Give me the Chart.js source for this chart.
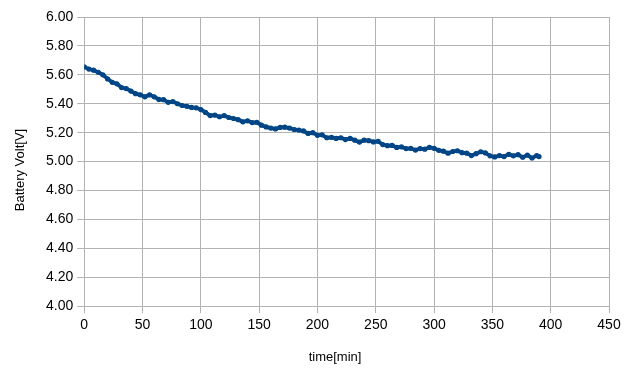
<!DOCTYPE html>
<html>
<head>
<meta charset="utf-8">
<script src="https://cdn.jsdelivr.net/npm/chart.js@4/dist/chart.umd.min.js"></script>
<style>
  body { margin: 0; background: #fff; }
  #wrap { width: 630px; height: 373px; }
</style>
</head>
<body>
<div id="wrap"><canvas id="voltChart" width="630" height="373"></canvas></div>
<script>
// time in minutes
var timeMin = [0, 4, 8, 12, 16, 20, 24, 28, 32, 36, 40, 44, 48, 52, 56, 60, 64, 68, 72, 76,
    80, 84, 88, 92, 96, 100, 104, 108, 112, 116, 120, 124, 128, 132, 136, 140, 144, 148, 152, 156,
    160, 164, 168, 172, 176, 180, 184, 188, 192, 196, 200, 204, 208, 212, 216, 220, 224, 228, 232, 236,
    240, 244, 248, 252, 256, 260, 264, 268, 272, 276, 280, 284, 288, 292, 296, 300, 304, 308, 312, 316,
    320, 324, 328, 332, 336, 340, 344, 348, 352, 356, 360, 364, 368, 372, 376, 380, 384, 388, 390];

// battery voltage [V]
var voltage = [5.655, 5.640, 5.632, 5.618, 5.600, 5.572, 5.548, 5.538, 5.512, 5.505, 5.488, 5.470, 5.462, 5.448, 5.462, 5.448, 5.430, 5.428, 5.410, 5.415,
    5.400, 5.388, 5.382, 5.375, 5.372, 5.360, 5.340, 5.318, 5.322, 5.310, 5.318, 5.305, 5.298, 5.290, 5.275, 5.282, 5.270, 5.272, 5.252, 5.240,
    5.232, 5.226, 5.236, 5.238, 5.232, 5.222, 5.218, 5.212, 5.195, 5.200, 5.182, 5.185, 5.165, 5.168, 5.160, 5.165, 5.152, 5.160, 5.148, 5.135,
    5.148, 5.145, 5.136, 5.140, 5.118, 5.110, 5.112, 5.098, 5.102, 5.090, 5.092, 5.080, 5.090, 5.086, 5.098, 5.092, 5.078, 5.072, 5.058, 5.070,
    5.075, 5.062, 5.058, 5.042, 5.055, 5.068, 5.060, 5.040, 5.032, 5.042, 5.035, 5.050, 5.040, 5.048, 5.030, 5.045, 5.025, 5.042, 5.035];

var xTitle = "time[min]";
var yTitle = "Battery Volt[V]";

var lineColor = "#004586";
var gridColor = "#b3b3b3";
var fontFam = "'Liberation Sans', Arial, sans-serif";

var points = timeMin.map(function (t, i) {
    return { x: t, y: voltage[i] };
});

// axis titles sit off-centre in the original, so draw them here
var axisTitles = {
    id: "axisTitles",
    afterDraw: function (chart) {
        var ctx = chart.ctx;
        ctx.save();
        ctx.fillStyle = "#000";
        ctx.font = "13px " + fontFam;
        ctx.textAlign = "center";
        ctx.textBaseline = "middle";
        ctx.fillText(xTitle, 335, 357);
        ctx.translate(20, 170);
        ctx.rotate(-Math.PI / 2);
        ctx.fillText(yTitle, 0, 0);
        ctx.restore();
    },
};

var voltChart = new Chart(document.getElementById("voltChart"), {
    type: "scatter",
    data: {
        datasets: [
            {
                data: points,
                showLine: true,
                borderColor: lineColor,
                backgroundColor: lineColor,
                borderWidth: 3.8,
                pointRadius: 2.6,
                pointBorderWidth: 0,
                tension: 0,
            },
        ],
    },
    plugins: [axisTitles],
    options: {
        responsive: false,
        animation: false,
        layout: {
            padding: { top: 17, right: 21, left: 42, bottom: 35 },
        },
        plugins: {
            legend: { display: false },
            tooltip: { enabled: false },
        },
        scales: {
            x: {
                type: "linear",
                min: 0,
                max: 450,
                grid: {
                    color: gridColor,
                    tickColor: gridColor,
                    tickLength: 7,
                },
                border: { color: gridColor },
                ticks: {
                    stepSize: 50,
                    color: "#000",
                    padding: 4,
                    maxRotation: 0,
                    font: { family: fontFam, size: 14 },
                },
            },
            y: {
                min: 4,
                max: 6,
                grid: {
                    color: gridColor,
                    tickColor: gridColor,
                    tickLength: 7,
                },
                border: { color: gridColor },
                ticks: {
                    stepSize: 0.2,
                    color: "#000",
                    padding: 4,
                    font: { family: fontFam, size: 14 },
                    callback: function (v) {
                        return Number(v).toFixed(2);
                    },
                },
            },
        },
    },
});
</script>
</body>
</html>
